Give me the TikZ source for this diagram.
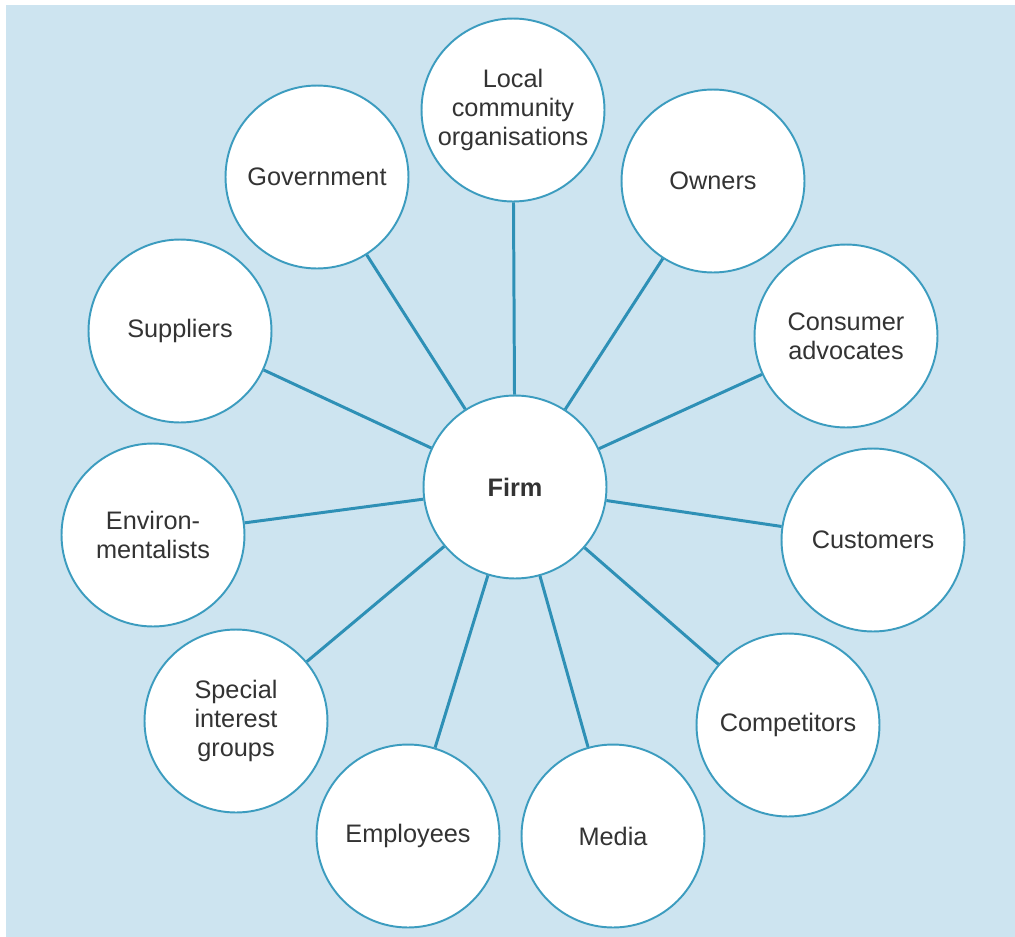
\documentclass[tikz,border=0pt]{standalone}
\usepackage{fontspec}
\setmainfont{Liberation Sans}
\usetikzlibrary{positioning}
\definecolor{bgblue}{HTML}{CDE4F0}
\definecolor{rimblue}{HTML}{3C9CBF}
\definecolor{spokeblue}{HTML}{2E90B6}
\definecolor{txtgrey}{HTML}{333333}
\tikzset{
    holder/.style={
           circle,
           draw=rimblue, line width=1.1pt,
           fill=white,
           minimum size=3.66cm,
           inner sep=0pt,
           align=center,
           text=txtgrey,
           font=\fontsize{14.4}{16.5}\selectfont},
    spoke/.style={
           draw=spokeblue,
           line width=1.7pt}
}
\begin{document}
\begin{tikzpicture}[x=0.02cm, y=-0.02cm]
        \fill[white] (0,0) rectangle (1015,937);
        \fill[bgblue] (6,5) rectangle (1015,937);
        \useasboundingbox (0,0) rectangle (1015,937);
        \node[holder] (firm) at (515,487) {\textbf{Firm}};
        \node[holder] (local) at (513,110) {Local\\community\\organisations};
        \node[holder] (gov) at (317,177) {Government};
        \node[holder] (own) at (713,181) {Owners};
        \node[holder] (sup) at (180,331) {Suppliers};
        \node[holder] (adv) at (846,336) {Consumer\\advocates};
        \node[holder] (env) at (153,535) {Environ-\\mentalists};
        \node[holder] (cust) at (873,540) {Customers};
        \node[holder] (sig) at (236,721) {Special\\interest\\groups};
        \node[holder] (comp) at (788,725) {Competitors};
        \node[holder] (emp) at (408,836) {Employees};
        \node[holder] (med) at (613,836) {Media};
        \foreach \n in {local,gov,own,sup,adv,env,cust,sig,comp,emp,med}
            \draw[spoke] (firm) -- (\n);
    \end{tikzpicture}
\end{document}
